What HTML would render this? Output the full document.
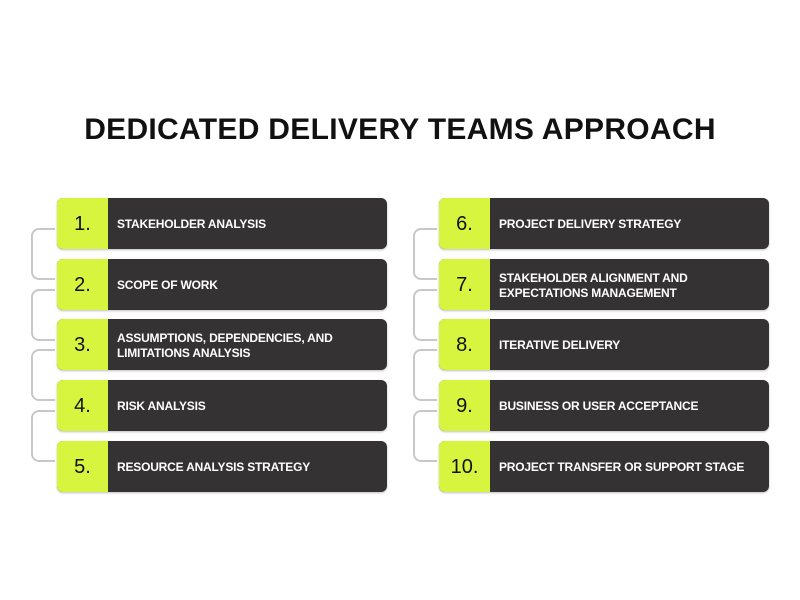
<!DOCTYPE html>
<html><head><style>
body{margin:0;width:800px;height:600px;background:#fff;font-family:"Liberation Sans",sans-serif;position:relative;overflow:hidden}
h1{position:absolute;top:113px;left:0;width:800px;text-align:center;margin:0;font-size:30px;font-weight:bold;color:#111;letter-spacing:0.3px}
.c{position:absolute;width:330px;height:51px;border-radius:6px;background:#343233;overflow:hidden;box-shadow:0 1px 2px rgba(0,0,0,.25)}
.n{position:absolute;left:0;top:1px;width:51px;height:51px;background:#d7f53f;font-size:20px;color:#111;display:flex;align-items:center;justify-content:center}
.n0{position:absolute;left:0;top:0;width:51px;height:2px;background:#d7f53f}
.t{position:absolute;left:60px;right:8px;top:1px;height:51px;display:flex;align-items:center;color:#fff;font-weight:bold;font-size:12px;line-height:15px;letter-spacing:-0.2px}
.b{position:absolute;width:22px;border:2px solid #c8c8c8;border-right:none;border-radius:8px 0 0 8px}
</style></head><body>
<h1>DEDICATED DELIVERY TEAMS APPROACH</h1>
<div class="b" style="left:31px;top:228px;height:48px"></div>
<div class="b" style="left:31px;top:289px;height:48px"></div>
<div class="b" style="left:31px;top:349px;height:48px"></div>
<div class="b" style="left:31px;top:410px;height:48px"></div>
<div class="b" style="left:413px;top:228px;height:48px"></div>
<div class="b" style="left:413px;top:289px;height:48px"></div>
<div class="b" style="left:413px;top:349px;height:48px"></div>
<div class="b" style="left:413px;top:410px;height:48px"></div>
<div class="c" style="left:57px;top:198px"><div class="n0"></div><div class="n">1.</div><div class="t">STAKEHOLDER ANALYSIS</div></div>
<div class="c" style="left:57px;top:259px"><div class="n0"></div><div class="n">2.</div><div class="t">SCOPE OF WORK</div></div>
<div class="c" style="left:57px;top:319px"><div class="n0"></div><div class="n">3.</div><div class="t">ASSUMPTIONS, DEPENDENCIES, AND<br>LIMITATIONS ANALYSIS</div></div>
<div class="c" style="left:57px;top:380px"><div class="n0"></div><div class="n">4.</div><div class="t">RISK ANALYSIS</div></div>
<div class="c" style="left:57px;top:441px"><div class="n0"></div><div class="n">5.</div><div class="t">RESOURCE ANALYSIS STRATEGY</div></div>
<div class="c" style="left:439px;top:198px"><div class="n0"></div><div class="n">6.</div><div class="t">PROJECT DELIVERY STRATEGY</div></div>
<div class="c" style="left:439px;top:259px"><div class="n0"></div><div class="n">7.</div><div class="t">STAKEHOLDER ALIGNMENT AND<br>EXPECTATIONS MANAGEMENT</div></div>
<div class="c" style="left:439px;top:319px"><div class="n0"></div><div class="n">8.</div><div class="t">ITERATIVE DELIVERY</div></div>
<div class="c" style="left:439px;top:380px"><div class="n0"></div><div class="n">9.</div><div class="t">BUSINESS OR USER ACCEPTANCE</div></div>
<div class="c" style="left:439px;top:441px"><div class="n0"></div><div class="n">10.</div><div class="t">PROJECT TRANSFER OR SUPPORT STAGE</div></div>
</body></html>
